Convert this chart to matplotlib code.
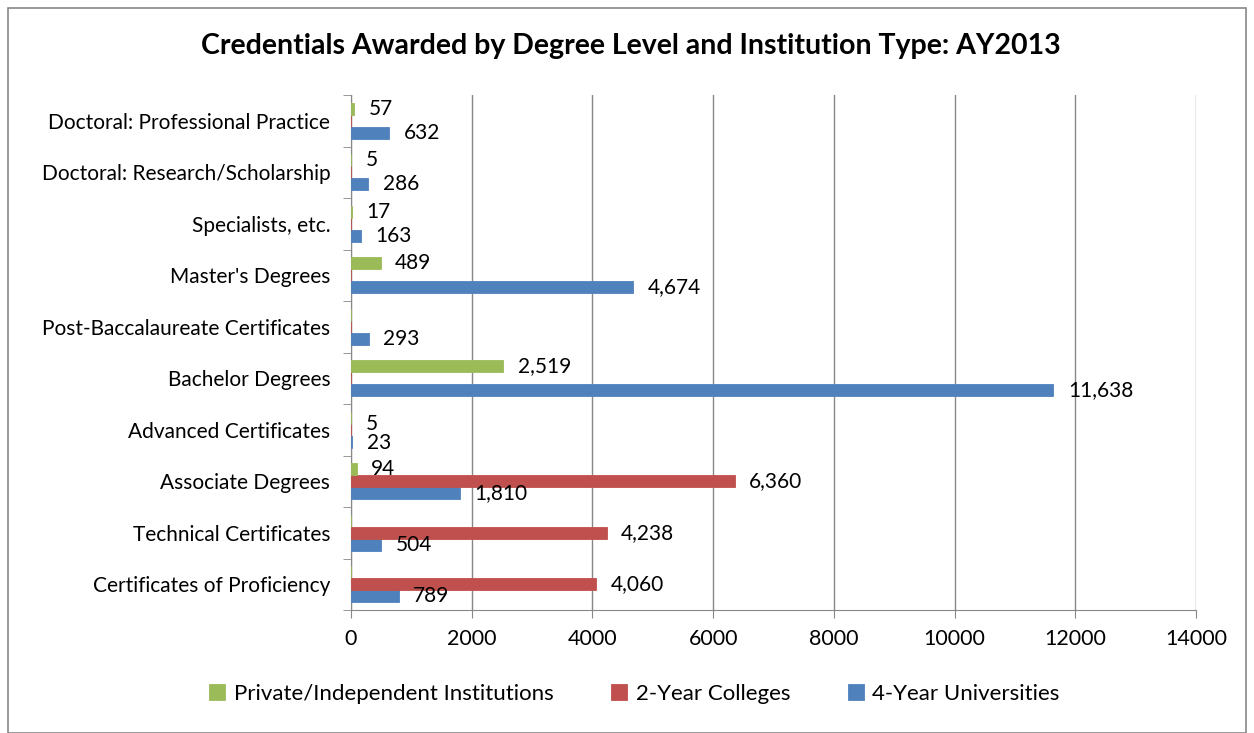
import matplotlib.pyplot as plt
import numpy as np
from matplotlib.patches import Rectangle

plt.rcParams['font.family'] = ['Lato', 'DejaVu Sans']

categories = ['Certificates of Proficiency', 'Technical Certificates', 'Associate Degrees',
              'Advanced Certificates', 'Bachelor Degrees', 'Post-Baccalaureate Certificates',
              "Master's Degrees", 'Specialists, etc.', 'Doctoral: Research/Scholarship',
              'Doctoral: Professional Practice']
univ4 = [789, 504, 1810, 23, 11638, 293, 4674, 163, 286, 632]
coll2 = [4060, 4238, 6360, 5, None, None, None, None, None, None]
private = [None, None, 94, None, 2519, None, 489, 17, 5, 57]

series = [('4-Year Universities', univ4, '#4F81BD', -1),
          ('2-Year Colleges', coll2, '#C0504D', 0),
          ('Private/Independent Institutions', private, '#9BBB59', 1)]

fig = plt.figure(figsize=(12.54, 7.33), dpi=100)
ax = fig.add_axes([351/1254, 1-610/733, (1196-351)/1254, (610-95)/733])
fig.patches.append(Rectangle((8/1254, 0), 1238/1254, 1-8/733, transform=fig.transFigure,
                             fill=False, edgecolor='#888888', lw=1.2))

y = np.arange(len(categories))
h = 0.235
handles = {}
for name, vals, col, k in series:
    v = np.array([np.nan if x is None else x for x in vals], dtype=float)
    b = ax.barh(y + k * h, np.nan_to_num(v), height=h, color=col, label=name, zorder=3,
                edgecolor=col, lw=0.6)
    handles[name] = b
    for yi, val in zip(y, v):
        if not np.isnan(val):
            dy = 0
            # labels pushed apart where two small bars share a row
            if categories[yi] == 'Advanced Certificates':
                dy = 0.12 if k == 0 else -0.03
            ax.text(val + 240, yi + k * h + dy, f'{int(val):,}', va='center', ha='left',
                    fontsize=15, zorder=4)

ax.set_xlim(0, 14000)
ax.set_ylim(-0.5, len(categories) - 0.5)
ax.set_xticks(np.arange(0, 14001, 2000))
ax.set_yticks(y)
ax.set_yticklabels(categories)
ax.set_yticks(np.arange(-0.5, len(categories), 1), minor=True)
ax.tick_params(axis='y', which='major', length=0, labelsize=15, pad=15)
ax.tick_params(axis='y', which='minor', length=6, color='#888888', direction='out')
ax.tick_params(axis='x', length=6, color='#888888', labelsize=15.5, pad=8)
ax.grid(axis='x', color='#888888', lw=1, zorder=0)
for s in ['top', 'right']:
    ax.spines[s].set_visible(False)
for s in ['left', 'bottom']:
    ax.spines[s].set_color('#888888')
ax.spines['bottom'].set_zorder(5)

fig.suptitle('Credentials Awarded by Degree Level and Institution Type: AY2013',
             x=0.503, y=1-46/733, va='center', fontsize=20.5, fontweight='bold')
order = ['Private/Independent Institutions', '2-Year Colleges', '4-Year Universities']
fig.legend([handles[n] for n in order], order, loc='center', bbox_to_anchor=(0.506, 1-694/733),
           ncol=3, frameon=False, fontsize=16, handlelength=0.7, handleheight=0.7,
           columnspacing=2.6, handletextpad=0.4)

fig.savefig('out.png', dpi=100)
